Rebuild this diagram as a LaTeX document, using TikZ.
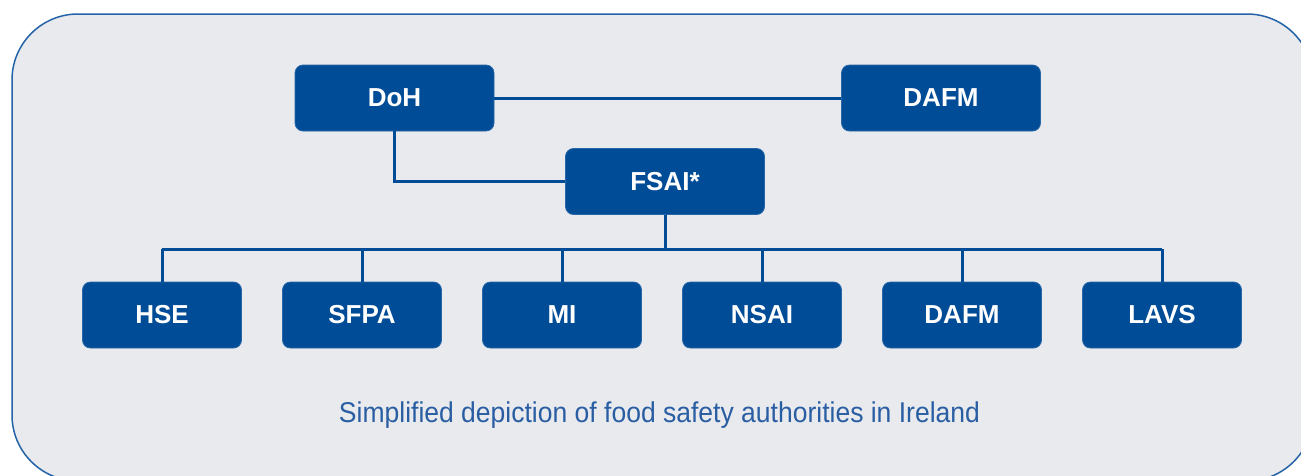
\documentclass[tikz,border=0pt]{standalone}
\usepackage{fontspec}
\setmainfont{Liberation Sans}
\definecolor{boxblue}{HTML}{014C97}
\definecolor{panel}{HTML}{E9EAEE}
\definecolor{panelline}{HTML}{2563A8}
\definecolor{captionblue}{HTML}{2A5EA3}
\tikzset{
  orgbox/.style={draw=boxblue!85!white, line width=0.8pt, fill=boxblue, rounded corners=8pt, inner sep=0pt,
    minimum height=66pt, text=white, font=\fontsize{26}{30}\selectfont\bfseries},
  topbox/.style={orgbox, minimum width=199pt},
  lowbox/.style={orgbox, minimum width=159pt},
  link/.style={draw=boxblue, line width=3pt}
}
\begin{document}
\begin{tikzpicture}[x=1pt,y=-1pt]
\useasboundingbox (0,0) rectangle (1301,475);
\fill[white] (0,0) rectangle (1301,475);
\begin{scope}
\clip (0,0) rectangle (1301,475);
\draw[panelline, fill=panel, line width=1.5pt, rounded corners=66pt] (12,14) rectangle (1313,481);
\end{scope}
\node[topbox] (doh) at (394.5,98) {DoH};
\node[topbox] (dafmtop) at (941,98) {DAFM};
\node[topbox] (fsai) at (665,181.5) {FSAI*};
\foreach \n/\t [count=\i from 0] in {hse/HSE,sfpa/SFPA,mi/MI,nsai/NSAI,dafm/DAFM,lavs/LAVS}{
  \node[lowbox] (\n) at (162+200*\i,315) {\t};
}
\coordinate (bus) at (665,249);
\coordinate (busl) at (162,249);
\coordinate (busr) at (1162,249);
\draw[link] (doh.east) -- (dafmtop.west);
\draw[link] (doh.south) |- (fsai.west);
\draw[link] (fsai.south) -- (bus);
\draw[link] (busl) -- (busr);
\foreach \n in {hse,sfpa,mi,nsai,dafm,lavs}{
  \draw[link] (\n.north) -- (\n.north |- bus);
}
\node[text=captionblue, font=\fontsize{24}{28}\selectfont, inner sep=0pt, anchor=base] (cap) at (659.5,422) {\resizebox{641pt}{!}{\scalebox{1}[1.08]{Simplified depiction of food safety authorities in Ireland}}};
\end{tikzpicture}
\end{document}
